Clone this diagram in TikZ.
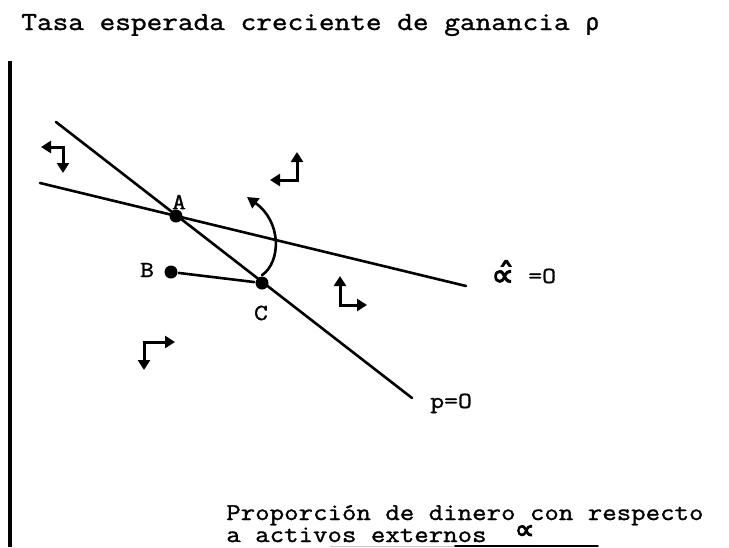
\documentclass[tikz,border=0pt]{standalone}
\usepackage{fontspec}
\setmonofont{Latin Modern Mono}[FakeStretch=1.17,FakeBold=1.3]
\newfontfamily\rhof{DejaVu Sans Mono}[FakeBold=1]
\newfontfamily\symf{DejaVu Sans}[FakeBold=3]
\usetikzlibrary{arrows.meta}
\begin{document}
\begin{tikzpicture}[x=1pt,y=-1pt,line width=2.6pt,line cap=round,
  title/.style={font=\fontsize{26}{30}\selectfont\ttfamily,inner sep=0,anchor=base west},
  txt/.style={font=\fontsize{24}{28}\selectfont\ttfamily,inner sep=0,anchor=base west},
  lbl/.style={font=\fontsize{23}{26}\selectfont\ttfamily,inner sep=0},
  dot/.style={circle,fill,inner sep=0,minimum size=13pt},
  dirarrow/.style={{Triangle[length=10pt,width=12pt]}-{Triangle[length=10pt,width=12pt]},line width=3pt,line cap=butt,line join=miter}]
\useasboundingbox (0,0) rectangle (729,547);
% axis
\coordinate (ytop) at (10,61);
\coordinate (ybot) at (10,547);
\draw[line width=3.2pt,line cap=butt] (ytop) -- (ybot);
% title
\node[title] (ttl) at (20,30) {Tasa esperada creciente de ganancia {\rhof\fontsize{23}{28}\selectfont ρ}};
% lines
\coordinate (p1) at (56,122);
\coordinate (p2) at (412,398);
\coordinate (a1) at (40,183);
\coordinate (a2) at (466,286);
\draw (p1) -- (p2);
\draw (a1) -- (a2);
% points
\node[dot] (A) at (176,216) {};
\node[dot] (B) at (171,272) {};
\node[dot] (C) at (262,283) {};
\draw (B) -- (C);
\node[lbl] (Al) at (179,202) {A};
\node[lbl] (Bl) at (147,270) {B};
\node[lbl] (Cl) at (261,313) {C};
% curved arrow
\coordinate (ctip) at (247,197);
\draw[-{Triangle[length=11pt,width=12pt]},line width=2.6pt] (C.north) .. controls (281,262) and (282,222) .. (ctip);
% labels of curves
\node[lbl,anchor=base west] (pl) at (429,408) {p=O};
\node[font=\fontsize{32}{32}\selectfont\symf,inner sep=0,anchor=base west] (alf) at (490,286) {∝̂};
\node[lbl,anchor=base west] (al) at (527,283) {=O};
% direction arrows
\draw[dirarrow] (41,147) -- (63,147) -- (63,173);
\draw[dirarrow] (270,180) -- (297,180) -- (297,152);
\draw[dirarrow] (340,276) -- (340,305) -- (367,305);
\draw[dirarrow] (175,342) -- (144,342) -- (144,370);
% bottom text
\node[txt] (x1) at (225,520) {Proporción de dinero con respecto};
\node[txt] (x2) at (225,542) {a activos externos\hspace{28pt}\raisebox{3pt}{\symf\fontsize{28}{28}\selectfont ∝}};
\coordinate (u0) at (330,546);
\coordinate (u1) at (455,546);
\coordinate (u2) at (598,546);
\draw[gray!45,line width=1pt] (u0) -- (u1);
\draw[line width=1.8pt] (u1) -- (u2);
\end{tikzpicture}
\end{document}
